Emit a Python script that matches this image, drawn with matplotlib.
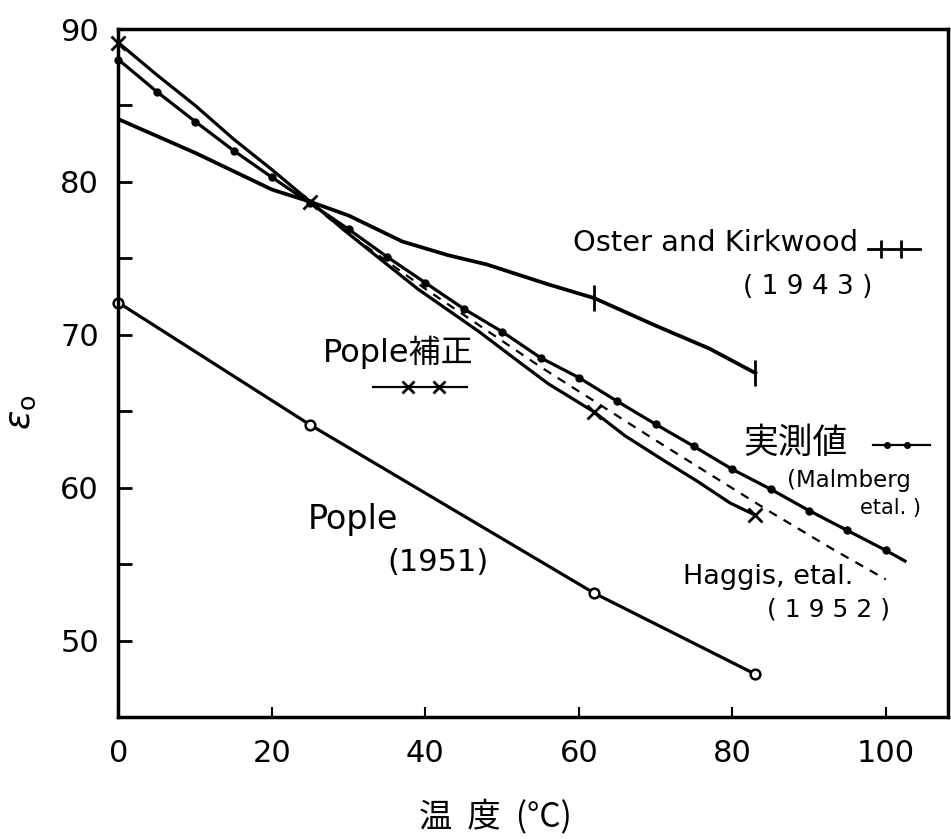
import matplotlib
matplotlib.use("Agg")
import matplotlib.pyplot as plt

plt.rcParams['font.family'] = ['DejaVu Sans', 'Noto Sans CJK JP']

# measured values (Malmberg et al.)
t_meas = [0, 5, 10, 15, 20, 25, 30, 35, 40, 45, 50, 55, 60, 65, 70, 75, 80, 85, 90, 95, 100]
eps_meas = [88.0, 85.9, 83.95, 82.05, 80.3, 78.6, 76.9, 75.1, 73.4, 71.7, 70.2, 68.5,
            67.2, 65.65, 64.15, 62.7, 61.2, 59.9, 58.5, 57.2, 55.9]
t_meas_tail = [100, 102.5]
eps_meas_tail = [55.9, 55.2]

# Pople (1951)
t_pople = [0, 25, 62, 83]
eps_pople = [72.1, 64.1, 53.1, 47.8]

# Pople, corrected: curve and the computed points
t_corr = [0, 5, 10, 15, 20, 25, 30, 39, 47, 52, 56, 62, 66, 71, 75.5, 79.7, 83]
eps_corr = [89.1, 87.0, 85.0, 82.8, 80.8, 78.7, 76.6, 73.0, 70.2, 68.3, 66.8, 64.95,
            63.4, 61.8, 60.4, 59.0, 58.2]
t_corr_pts = [0, 25, 62, 83]
eps_corr_pts = [89.1, 78.7, 64.95, 58.2]

# Oster and Kirkwood (1943)
t_oster = [0, 10, 20, 25, 30, 37, 43, 48, 56, 62, 70, 77, 83]
eps_oster = [84.1, 81.9, 79.5, 78.7, 77.8, 76.1, 75.2, 74.6, 73.3, 72.4, 70.6, 69.1, 67.5]
t_oster_pts = [62, 83]
eps_oster_pts = [72.4, 67.5]

# Haggis et al. (1952)
t_haggis = [27, 30, 35, 40, 45, 50, 55, 60, 65, 70, 77, 85, 93, 100]
eps_haggis = [77.8, 76.6, 74.8, 73.0, 71.3, 69.6, 67.9, 66.3, 64.7, 63.1, 60.9, 58.4,
              56.0, 54.0]

fig = plt.figure(figsize=(9.51, 8.39), dpi=100)
ax = fig.add_axes([0.1246, 0.1454, 0.8722, 0.8200])

lw = 2.3
ax.plot(t_meas, eps_meas, color='k', lw=lw)
ax.plot(t_meas_tail, eps_meas_tail, color='k', lw=lw)
ax.plot(t_meas, eps_meas, 'o', color='k', ms=5, clip_on=False)

ax.plot(t_pople, eps_pople, color='k', lw=lw)
ax.plot(t_pople, eps_pople, 'o', mfc='white', mec='k', mew=1.8, ms=7, clip_on=False)

ax.plot(t_corr, eps_corr, color='k', lw=lw)
ax.plot(t_corr_pts, eps_corr_pts, 'x', color='k', mew=2, ms=10, clip_on=False)

ax.plot(t_oster, eps_oster, color='k', lw=lw + 0.4)
ax.plot(t_oster_pts, eps_oster_pts, '|', color='k', mew=2, ms=19)

ax.plot(t_haggis, eps_haggis, color='k', lw=1.6, ls=(0, (4, 3.5)))

# key marks drawn next to the labels
ax.plot([97.7, 104.4], [75.6, 75.6], color='k', lw=2)
ax.plot([99.4, 102.0], [75.6, 75.6], '|', color='k', mew=2, ms=13)
ax.plot([33.2, 45.4], [66.6, 66.6], color='k', lw=1.6)
ax.plot([37.7, 41.8], [66.6, 66.6], 'x', color='k', mew=2, ms=8)
ax.plot([98.3, 105.7], [62.8, 62.8], color='k', lw=1.6)
ax.plot([100.1, 102.7], [62.8, 62.8], 'o', color='k', ms=4)

txt = dict(color='k', ha='left', va='center')
ax.text(59.2, 76.0, 'Oster and Kirkwood', fontsize=20.8, **txt)
ax.text(81.4, 73.1, '( 1 9 4 3 )', fontsize=19, **txt)
ax.text(26.6, 68.85, 'Pople補正', fontsize=23, **txt)
ax.text(81.4, 62.9, '実測値', fontsize=25, **txt)
ax.text(87.1, 60.5, '(Malmberg', fontsize=16.5, **txt)
ax.text(96.6, 58.7, 'etal. )', fontsize=15, **txt)
ax.text(73.6, 54.15, 'Haggis, etal.', fontsize=19.5, **txt)
ax.text(84.5, 52.0, '( 1 9 5 2 )', fontsize=18, **txt)
ax.text(24.6, 57.9, 'Pople', fontsize=24, **txt)
ax.text(35.0, 55.1, '(1951)', fontsize=22, **txt)

ax.set_xlim(0, 108.1)
ax.set_ylim(45, 90)
ax.set_xticks([0, 20, 40, 60, 80, 100])
ax.set_yticks([50, 60, 70, 80, 90])
ax.set_yticks([55, 65, 75, 85], minor=True)
ax.tick_params(axis='x', direction='in', length=7, width=1.5, pad=16, labelsize=22)
ax.tick_params(axis='y', which='both', direction='in', length=10, width=2, pad=14,
               labelsize=22)
for s in ax.spines.values():
    s.set_linewidth(2.5)

ax.text(0.454, -0.1456, '温  度  (°C)', transform=ax.transAxes, ha='center',
        va='center', fontsize=24, family=['Noto Sans CJK JP', 'DejaVu Sans'])
ax.text(-0.118, 0.4425, r'$\varepsilon_{\rm o}$', transform=ax.transAxes, ha='center',
        va='center', fontsize=26, rotation=90)

fig.savefig('out.png', dpi=100)
